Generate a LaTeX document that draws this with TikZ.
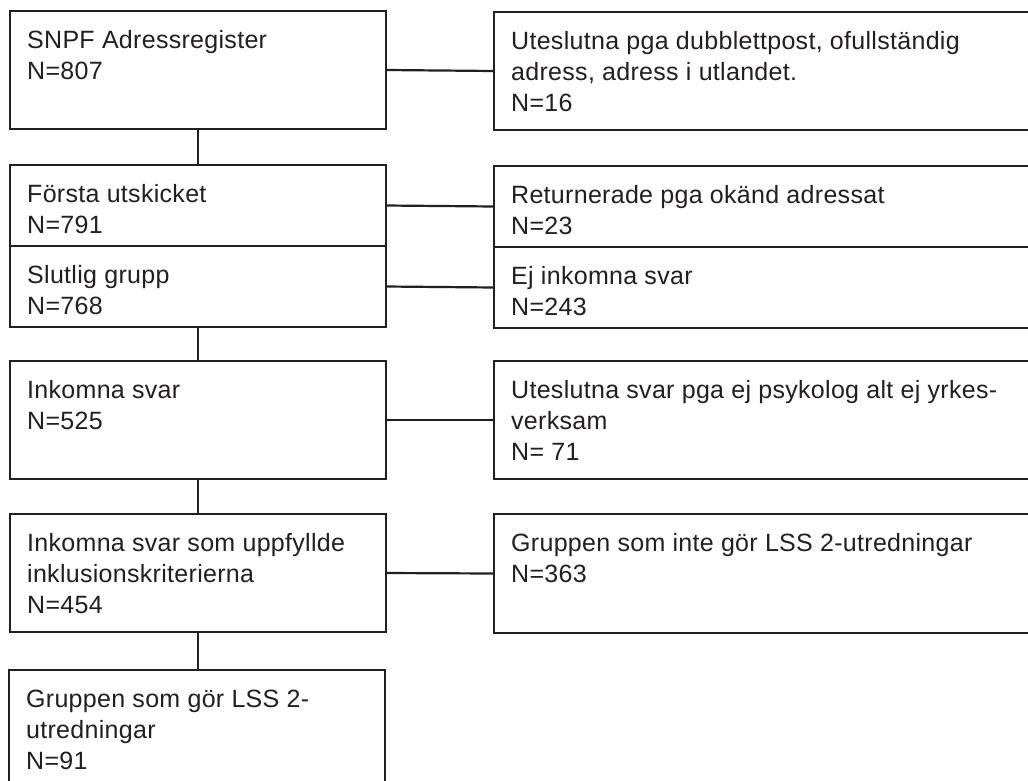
\documentclass[tikz,border=0pt]{standalone}
\usepackage{fontspec}
\setmainfont{Liberation Sans}[LetterSpace=1.2]
\definecolor{ink}{HTML}{231F20}
\begin{document}
\begin{tikzpicture}[x=1pt,y=-1pt,
  box/.style={draw=ink, line width=2.2pt, rectangle, inner sep=0pt, outer sep=0pt},
  lbox/.style={box, minimum width=376pt},
  rbox/.style={box, minimum width=546pt},
  txt/.style={anchor=base west, inner sep=0pt, text=ink, font=\fontsize{25}{31}\selectfont},
  conn/.style={draw=ink, line width=2.2pt}]
\clip (0,0) rectangle (1028,780);
\fill[white] (0,0) rectangle (1028,780);
% left column
\node[lbox, minimum height=118pt] (b1) at (198,70) {};
\node[lbox, minimum height=81pt] (b2) at (198,205.5) {};
\node[lbox, minimum height=81pt] (b3) at (198,286.5) {};
\node[lbox, minimum height=118pt] (b4) at (198,420) {};
\node[lbox, minimum height=118pt] (b5) at (198,573) {};
\node[lbox, minimum height=140pt] (b6) at (197,740) {};
% right column
\node[rbox, minimum height=118pt] (r1) at (767,71) {};
\node[rbox, minimum height=81pt] (r2) at (767,206.5) {};
\node[rbox, minimum height=81pt] (r3) at (767,287.5) {};
\node[rbox, minimum height=118pt] (r4) at (767,420) {};
\node[rbox, minimum height=119pt] (r5) at (767,573.5) {};
% texts
\newcommand{\boxtext}[3]{\node[txt] (#1) at ([shift={(17,37)}]#2.north west) {\parbox[t]{520pt}{\raggedright #3}};}
\boxtext{t1}{b1}{SNPF Adressregister\\N=807}
\boxtext{t2}{b2}{Första utskicket\\N=791}
\boxtext{t3}{b3}{Slutlig grupp\\N=768}
\boxtext{t4}{b4}{Inkomna svar\\N=525}
\boxtext{t5}{b5}{Inkomna svar som uppfyllde\\inklusionskriterierna\\N=454}
\boxtext{t6}{b6}{Gruppen som gör LSS 2-\\utredningar\\N=91}
\boxtext{u1}{r1}{Uteslutna pga dubblettpost, ofullständig\\adress, adress i utlandet.\\N=16}
\boxtext{u2}{r2}{Returnerade pga okänd adressat\\N=23}
\boxtext{u3}{r3}{Ej inkomna svar\\N=243}
\boxtext{u4}{r4}{Uteslutna svar pga ej psykolog alt ej yrkes-\\verksam\\N= 71}
\boxtext{u5}{r5}{Gruppen som inte gör LSS 2-utredningar\\N=363}
% connectors
\draw[conn] (b1.east) -- (r1.west);
\draw[conn] (b2.east) -- (r2.west);
\draw[conn] (b3.east) -- (r3.west);
\draw[conn] (b4.east) -- (r4.west);
\draw[conn] (b5.east) -- (r5.west);
\draw[conn] (b1.south) -- (b2.north);
\draw[conn] (b3.south) -- (b4.north);
\draw[conn] (b4.south) -- (b5.north);
\draw[conn] (b5.south) -- (b5.south |- b6.north);
\end{tikzpicture}
\end{document}
